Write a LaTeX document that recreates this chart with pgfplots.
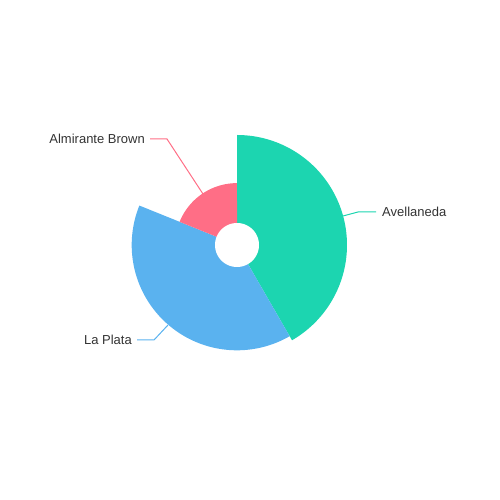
\documentclass[border=0pt]{standalone}
\usepackage{pgfplots}
\pgfplotsset{compat=1.18}
\usepackage{fontspec}
\setmainfont{Liberation Sans}
\definecolor{cA}{HTML}{1CD5B0}
\definecolor{cB}{HTML}{5AB2EF}
\definecolor{cC}{HTML}{FF6E86}
\definecolor{txt}{HTML}{333333}
\begin{document}
\begin{tikzpicture}
% values: Avellaneda 150, La Plata 142, Almirante Brown 68
\pgfmathsetmacro{\vA}{150}
\pgfmathsetmacro{\vB}{142}
\pgfmathsetmacro{\vC}{68}
\pgfmathsetmacro{\tot}{\vA+\vB+\vC}
\pgfmathsetmacro{\vmax}{150}
\pgfmathsetmacro{\rA}{22+\vA/\vmax*88}
\pgfmathsetmacro{\rB}{22+\vB/\vmax*88}
\pgfmathsetmacro{\rC}{22+\vC/\vmax*88}
\pgfmathsetmacro{\aA}{90-\vA/\tot*360}
\pgfmathsetmacro{\aB}{\aA-\vB/\tot*360}
\pgfmathsetmacro{\aC}{\aB-\vC/\tot*360}
\begin{axis}[x=1pt,y=1pt,xmin=-237,xmax=263,ymin=-255,ymax=245,
  scale only axis, hide axis, clip=false]
\path[draw=none] (rel axis cs:0,0) rectangle (rel axis cs:1,1);
\addplot[fill=cA, draw=none, domain=\aA:90, samples=120] ({\rA*cos(x)},{\rA*sin(x)}) -- (axis cs:0,0) -- cycle;
\addplot[fill=cB, draw=none, domain=\aB:\aA, samples=120] ({\rB*cos(x)},{\rB*sin(x)}) -- (axis cs:0,0) -- cycle;
\addplot[fill=cC, draw=none, domain=\aC:\aB, samples=80] ({\rC*cos(x)},{\rC*sin(x)}) -- (axis cs:0,0) -- cycle;
\addplot[fill=white, draw=none, domain=0:360, samples=80] ({22*cos(x)},{22*sin(x)}) -- cycle;
\draw[cA, line width=1pt] (axis cs:106,29) -- (axis cs:121,33) -- (axis cs:139,33);
\draw[cB, line width=1pt] (axis cs:-69,-80) -- (axis cs:-83,-95) -- (axis cs:-100,-95);
\draw[cC, line width=1pt] (axis cs:-34,51) -- (axis cs:-70,106) -- (axis cs:-87,106);
\node[anchor=west, text=txt, font=\fontsize{13}{15}\selectfont, inner sep=0pt] at (axis cs:145,33.5) {Avellaneda};
\node[anchor=east, text=txt, font=\fontsize{13}{15}\selectfont, inner sep=0pt] at (axis cs:-105,-94.5) {La Plata};
\node[anchor=east, text=txt, font=\fontsize{13}{15}\selectfont, inner sep=0pt] at (axis cs:-92,106.5) {Almirante Brown};
\end{axis}
\end{tikzpicture}
\end{document}
